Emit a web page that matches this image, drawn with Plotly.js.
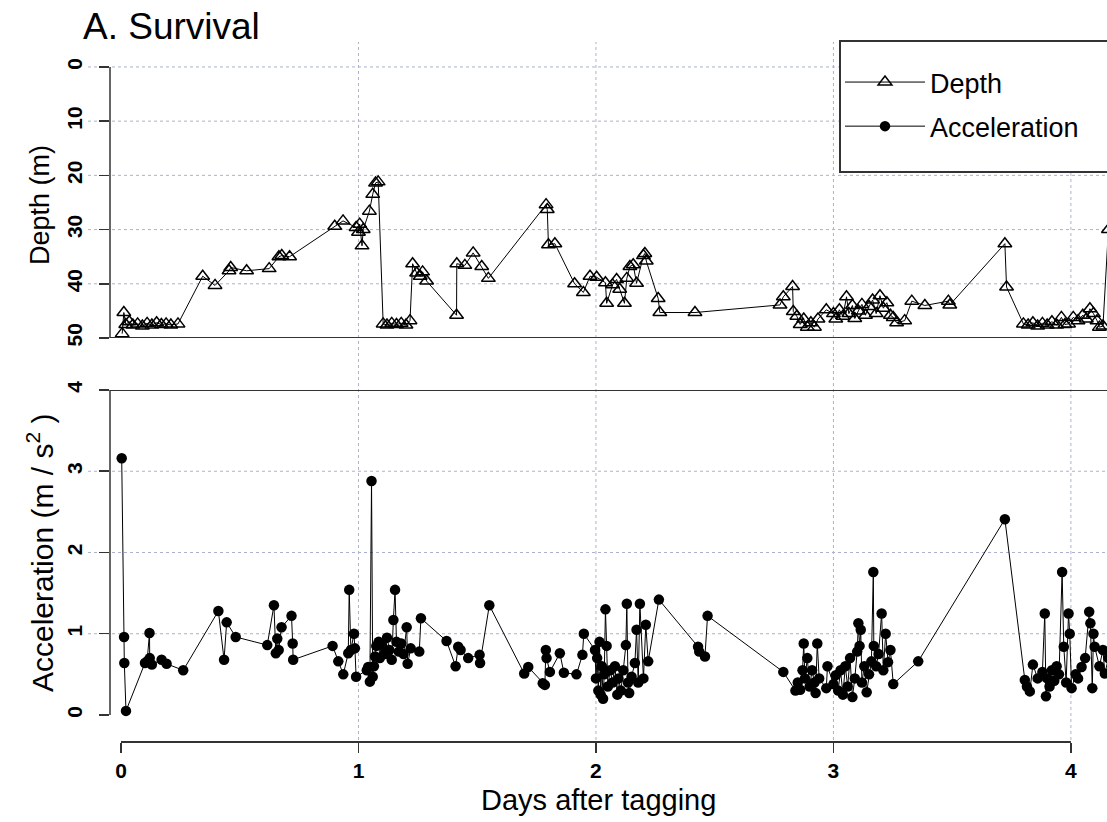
<!DOCTYPE html>
<html>
<head>
<meta charset="utf-8">
<script src="https://cdn.plot.ly/plotly-3.0.1.min.js"></script>
<style>html,body{margin:0;padding:0;background:#fff;}#chart{width:1107px;height:822px;}</style>
</head>
<body>
<div id="chart"></div>
<script>
// ---- Data ----
const depthDays = [0.005,0.012,0.02,0.035,0.05,0.07,0.09,0.11,0.13,0.15,0.17,0.19,0.21,0.24,
  0.344,0.396,0.455,0.462,0.529,0.624,0.665,0.677,0.71,0.90,0.935,0.99,1.0,1.005,1.015,1.02,1.046,1.06,1.072,1.083,
  1.104,1.12,1.14,1.16,1.18,1.20,1.217,1.228,1.245,1.26,1.27,1.287,1.413,1.414,1.448,1.483,1.519,1.547,
  1.79,1.795,1.80,1.827,1.91,1.947,1.975,2.003,2.04,2.045,2.07,2.087,2.10,2.12,2.13,2.143,2.157,2.171,2.2,2.206,2.212,
  2.262,2.269,2.417,2.775,2.789,2.828,2.831,2.846,2.86,2.875,2.89,2.905,2.92,2.935,2.97,3.0,3.01,3.025,3.04,3.055,
  3.065,3.08,3.09,3.105,3.12,3.135,3.15,3.165,3.18,3.196,3.21,3.225,3.24,3.252,3.266,3.3,3.33,3.385,3.484,3.49,
  3.722,3.729,3.80,3.82,3.84,3.86,3.88,3.90,3.92,3.94,3.96,3.975,3.99,4.01,4.03,4.05,4.065,4.08,4.095,4.11,4.12,4.135,4.158];
const depthM = [49.2,45.3,47.5,47.0,47.6,47.4,47.8,47.3,47.6,47.2,47.5,47.4,47.6,47.4,
  38.6,40.3,37.6,37.0,37.6,37.2,35.0,34.8,35.0,29.4,28.4,29.6,30.5,29.0,33.0,30.0,26.6,23.5,21.4,21.2,
  47.4,47.6,47.3,47.5,47.3,47.6,46.8,36.3,38.0,38.6,37.8,39.5,45.8,36.3,36.6,34.3,36.8,39.0,
  25.4,26.3,32.8,32.6,40.0,41.6,38.6,38.8,39.8,43.6,40.2,39.2,41.0,43.6,39.0,36.8,36.5,39.9,34.8,34.4,35.8,
  42.7,45.3,45.3,43.9,42.4,40.5,45.1,46.0,47.5,46.5,48.0,47.2,48.0,46.5,44.8,45.5,46.5,44.8,46.0,42.4,
  45.5,44.0,46.4,45.0,43.8,45.8,44.2,43.0,45.5,42.2,44.5,43.5,45.8,46.2,47.2,46.8,43.2,44.0,43.2,43.9,
  32.6,40.6,47.4,47.6,47.2,47.8,47.3,47.6,47.0,47.6,46.2,47.5,47.4,46.2,46.8,45.8,46.5,44.6,45.5,46.8,48.0,47.8,30.0];

const accDays = [0.003,0.013,0.014,0.021,0.101,0.11,0.12,0.121,0.13,0.171,0.192,0.262,0.41,0.434,0.445,0.483,
  0.616,0.644,0.652,0.658,0.664,0.676,0.718,0.723,0.725,0.891,0.915,0.936,0.957,0.961,0.968,0.981,0.985,0.99,
  1.035,1.041,1.048,1.055,1.06,1.065,1.07,1.075,1.085,1.09,1.10,1.11,1.12,1.13,1.14,1.147,1.154,1.16,1.17,1.18,1.19,
  1.203,1.207,1.22,1.256,1.263,1.371,1.409,1.42,1.43,1.462,1.51,1.512,1.551,1.698,1.715,1.776,1.785,1.789,1.792,
  1.806,1.848,1.865,1.918,1.943,1.949,1.996,2.0,2.005,2.01,2.015,2.02,2.025,2.03,2.035,2.04,2.045,2.05,2.06,2.07,
  2.08,2.09,2.095,2.105,2.115,2.126,2.13,2.135,2.14,2.15,2.164,2.171,2.178,2.185,2.2,2.21,2.22,2.265,2.43,2.435,
  2.459,2.47,2.789,2.84,2.85,2.86,2.87,2.875,2.88,2.89,2.90,2.91,2.92,2.925,2.932,2.94,2.97,2.975,3.0,3.01,3.02,
  3.03,3.04,3.05,3.06,3.07,3.08,3.09,3.10,3.105,3.11,3.115,3.12,3.13,3.14,3.15,3.16,3.168,3.17,3.18,3.19,3.203,
  3.21,3.22,3.23,3.24,3.252,3.357,3.722,3.806,3.815,3.827,3.84,3.86,3.88,3.89,3.895,3.90,3.91,3.92,3.93,3.94,
  3.95,3.963,3.97,3.98,3.99,3.995,4.003,4.02,4.03,4.045,4.06,4.077,4.082,4.09,4.095,4.1,4.12,4.135,4.143,4.158];
const accVal = [3.16,0.96,0.64,0.05,0.64,0.66,1.01,0.70,0.62,0.68,0.63,0.55,1.28,0.68,1.14,0.96,
  0.86,1.35,0.76,0.94,0.80,1.08,1.22,0.88,0.68,0.85,0.66,0.50,0.76,1.54,0.80,1.00,0.82,0.47,
  0.55,0.59,0.41,2.88,0.47,0.60,0.72,0.85,0.90,0.70,0.85,0.75,0.95,0.80,0.68,1.17,1.54,0.90,0.78,0.88,0.75,
  1.08,0.63,0.82,0.78,1.19,0.91,0.60,0.84,0.80,0.70,0.74,0.64,1.35,0.51,0.59,0.39,0.37,0.80,0.70,
  0.53,0.76,0.52,0.50,0.74,1.00,0.80,0.45,0.70,0.30,0.90,0.25,0.60,0.20,0.50,1.30,0.85,0.35,0.55,0.40,
  0.60,0.25,0.45,0.30,0.55,0.86,1.37,0.40,0.27,0.47,0.64,1.05,0.40,1.37,0.45,1.11,0.66,1.42,0.84,0.78,
  0.72,1.22,0.53,0.30,0.40,0.31,0.55,0.88,0.45,0.70,0.35,0.55,0.40,0.27,0.88,0.45,0.33,0.60,0.38,0.49,0.30,
  0.55,0.25,0.60,0.35,0.70,0.22,0.45,0.78,1.13,0.85,1.05,0.40,0.60,0.28,0.50,0.66,1.76,0.85,0.60,0.75,1.25,
  0.55,1.00,0.65,0.80,0.38,0.66,2.41,0.43,0.35,0.29,0.62,0.45,0.53,1.25,0.23,0.45,0.35,0.55,0.42,0.60,
  0.50,1.76,0.84,0.40,1.25,1.00,0.33,0.50,0.45,0.59,0.70,1.27,1.13,0.33,1.00,0.84,0.60,0.80,0.51,0.70];

const dayTicks = [0,1,2,3,4];
const depthTicks = [0,10,20,30,40,50];
const accTicks = [0,1,2,3,4];
const depthGrid = [0,10,20,30,40];
const accGrid = [1,2,3];
const dayGrid = [1,2,3,4];

const titleText = 'A. Survival';
const xTitle = 'Days after tagging';
const depthTitle = 'Depth (m)';
const accTitle = 'Acceleration (m / s<sup>2</sup> )';

// ---- Layout helpers (pixel geometry) ----
const W = 1107, H = 822;
const ML = 110, MT = 42, MB = 80;
const plotH = H - MT - MB;           // 700
const pyPaper = p => (H - MB - p) / plotH;
const pxPaper = p => (p - ML) / (W - ML);

const FONT = '"Liberation Sans", Arial, sans-serif';
const gridColor = '#aab3cc';
const axisColor = '#333333';

const shapes = [];
dayGrid.forEach(v => shapes.push({type:'line', xref:'x', yref:'paper', x0:v, x1:v, y0:pyPaper(740), y1:1,
  line:{color:gridColor, width:1, dash:'dot'}, layer:'below'}));
depthGrid.forEach(v => shapes.push({type:'line', xref:'paper', yref:'y', x0:pxPaper(88), x1:1, y0:v, y1:v,
  line:{color:gridColor, width:1, dash:'dot'}, layer:'below'}));
accGrid.forEach(v => shapes.push({type:'line', xref:'paper', yref:'y2', x0:pxPaper(88), x1:1, y0:v, y1:v,
  line:{color:gridColor, width:1, dash:'dot'}, layer:'below'}));
// axis lines
shapes.push({type:'line', xref:'paper', yref:'y', x0:0, x1:0, y0:depthTicks[0], y1:depthTicks[depthTicks.length-1], line:{color:axisColor, width:1.5}});
shapes.push({type:'line', xref:'paper', yref:'y2', x0:0, x1:0, y0:accTicks[0], y1:accTicks[accTicks.length-1], line:{color:axisColor, width:1.5}});
shapes.push({type:'line', xref:'paper', yref:'y', x0:0, x1:1, y0:50, y1:50, line:{color:axisColor, width:2}});
shapes.push({type:'line', xref:'paper', yref:'y2', x0:0, x1:1, y0:4, y1:4, line:{color:axisColor, width:2}});
shapes.push({type:'line', xref:'x', yref:'paper', x0:dayTicks[0], x1:dayTicks[dayTicks.length-1], y0:0, y1:0, line:{color:axisColor, width:2}});
// legend frame (extends past the right edge, as in the reference)
shapes.push({type:'rect', xref:'paper', yref:'paper', x0:pxPaper(840), x1:pxPaper(1130), y0:pyPaper(172), y1:pyPaper(41),
  line:{color:axisColor, width:2}, fillcolor:'#fff', layer:'above'});

const traces = [
  {x: depthDays, y: depthM, xaxis:'x', yaxis:'y', type:'scatter', mode:'lines+markers', name:'Depth', legendgroup:'d',
   line:{color:'#000', width:1}, marker:{symbol:'triangle-up-open', size:12, color:'#000', line:{width:1.5, color:'#000'}}},
  {x: accDays, y: accVal, xaxis:'x', yaxis:'y2', type:'scatter', mode:'lines+markers', name:'Acceleration', legendgroup:'a',
   line:{color:'#000', width:1}, marker:{symbol:'circle', size:10.5, color:'#000'}}
];

const tickFont = {family: FONT, size: 21, color:'#000', weight: 'bold'};
const layout = {
  width: W, height: H,
  margin: {l: ML, r: 0, t: MT, b: MB, pad: 0},
  paper_bgcolor: '#fff', plot_bgcolor: 'rgba(0,0,0,0)',
  font: {family: FONT, color:'#000'},
  showlegend: true,
  title: {text: titleText, font:{family: FONT, size: 37, color:'#000'}, xref:'container', yref:'container',
    x: 83/W, xanchor:'left', y: 1 - 26/H, yanchor:'middle'},
  xaxis: {domain:[0,1], range:[-0.0463, 4.152], anchor:'free', position:0,
    tickmode:'array', tickvals: dayTicks, ticks:'outside', ticklen:10, tickwidth:1.5, tickcolor:axisColor,
    showgrid:false, zeroline:false, showline:false, tickfont: tickFont, automargin:false},
  yaxis: {domain:[pyPaper(338), 1], range:[50, -4.6], anchor:'x',
    tickmode:'array', tickvals: depthTicks, ticks:'outside', ticklen:10, tickwidth:1.5, tickcolor:axisColor,
    tickangle:-90, ticklabelstandoff: 9, showgrid:false, zeroline:false, showline:false, tickfont: tickFont, automargin:false},
  yaxis2: {domain:[pyPaper(730), pyPaper(390)], range:[-0.185, 4], anchor:'x',
    tickmode:'array', tickvals: accTicks, ticks:'outside', ticklen:10, tickwidth:1.5, tickcolor:axisColor,
    tickangle:-90, ticklabelstandoff: 9, showgrid:false, zeroline:false, showline:false, tickfont: tickFont, automargin:false},
  annotations: [
    {text: xTitle, xref:'paper', yref:'paper', x: pxPaper(598), y: pyPaper(800), xanchor:'center', yanchor:'middle',
     showarrow:false, font:{family: FONT, size: 29, color:'#000'}},
    {text: depthTitle, xref:'paper', yref:'paper', x: pxPaper(40), y: pyPaper(205), xanchor:'center', yanchor:'middle',
     textangle:-90, showarrow:false, font:{family: FONT, size: 27, color:'#000'}},
    {text: accTitle, xref:'paper', yref:'paper', x: pxPaper(40), y: pyPaper(553), xanchor:'center', yanchor:'middle',
     textangle:-90, showarrow:false, font:{family: FONT, size: 30, color:'#000'}}
  ],
  legend: {x: pxPaper(840), y: pyPaper(58), xanchor:'left', yanchor:'top', bgcolor:'rgba(0,0,0,0)',
    borderwidth: 0, font:{family: FONT, size: 27, color:'#000'}, traceorder:'grouped',
    itemwidth: 80, tracegroupgap: 6},
  shapes: shapes
};

Plotly.newPlot('chart', traces, layout, {displayModeBar:false, staticPlot:true});
</script>
</body>
</html>
